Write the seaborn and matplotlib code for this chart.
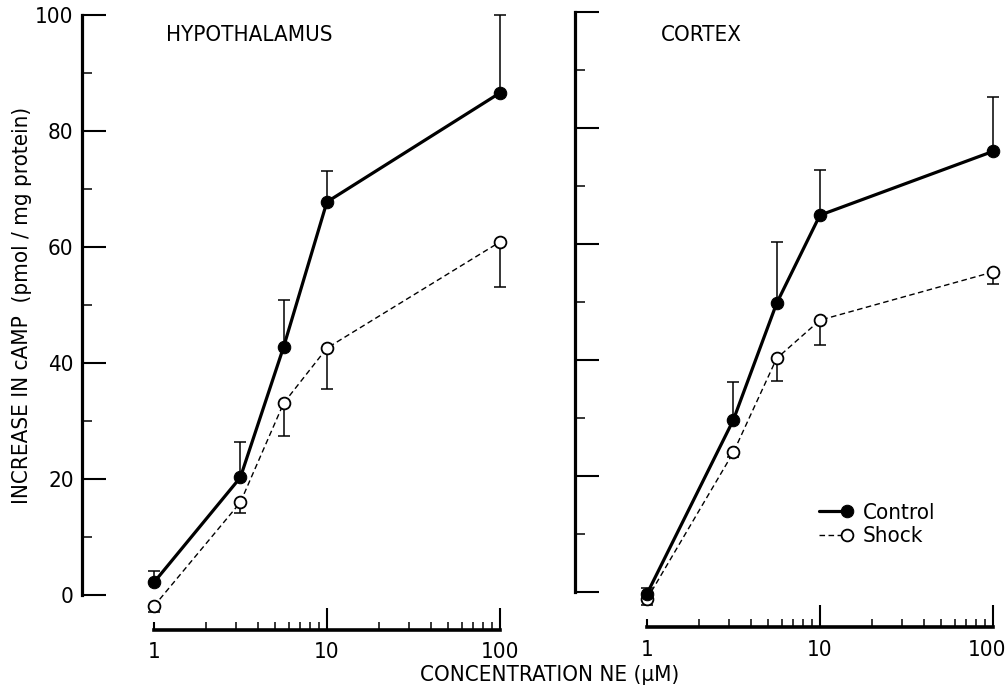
import numpy as np
import pandas as pd
import matplotlib
matplotlib.use("Agg")
import matplotlib.pyplot as plt
import seaborn as sns
from matplotlib.legend_handler import HandlerLine2D
from matplotlib.ticker import FixedLocator, NullFormatter
from matplotlib.transforms import ScaledTranslation

# ---- data ----
conc = [1, 3.16, 5.62, 10, 100]

hypo_control = [2.2, 20.3, 42.8, 67.8, 86.6]
hypo_control_top = [4.1, 26.4, 50.9, 73.1, 100.0]
hypo_shock = [-1.9, 16.0, 33.1, 42.6, 60.9]
hypo_shock_bottom = [-2.9, 14.1, 27.4, 35.5, 53.1]

cortex_control = [-0.3, 29.7, 49.8, 65.0, 76.0]
cortex_control_top = [0.7, 36.2, 60.3, 72.8, 85.3]
cortex_shock = [-1.2, 24.1, 40.3, 46.9, 55.2]
cortex_shock_bottom = [-2.2, 23.3, 36.4, 42.6, 53.1]

panels = ["HYPOTHALAMUS", "CORTEX"]
y_ticks = [0, 20, 40, 60, 80, 100]
x_ticks = [1, 10, 100]
x_tick_labels = ["1", "10", "100"]


class EndMarker(HandlerLine2D):
    # legend line with the marker at the right end only
    def create_artists(self, *args, **kwargs):
        arts = super().create_artists(*args, **kwargs)
        arts[0].set_markevery([1])
        return arts


sns.set_theme(style="white")
plt.rcParams["font.family"] = ["DejaVu Sans"]
plt.rcParams["font.stretch"] = "condensed"
for k in ["text.color", "axes.labelcolor", "xtick.color", "ytick.color"]:
    plt.rcParams[k] = "black"

fig = plt.figure(figsize=(10.07, 6.92), dpi=100)
W, H = 1007, 692
px_dec = 173.0
xlo, xhi = 0.384, 108
ylo, yhi = -6.0, 101
ax_w = np.log10(xhi / xlo) * px_dec
ax_h = (yhi - ylo) * 5.8
axes = [
    fig.add_axes([82 / W, (H - 630) / H, ax_w / W, ax_h / H]),
    fig.add_axes([575 / W, (H - 627) / H, ax_w / W, ax_h / H]),
]

series = [
    (hypo_control, hypo_control_top, hypo_shock, hypo_shock_bottom),
    (cortex_control, cortex_control_top, cortex_shock, cortex_shock_bottom),
]

for i, ax in enumerate(axes):
    ctrl, ctrl_top, shock, shock_bot = series[i]
    df = pd.DataFrame({"conc": conc, "Control": ctrl, "Shock": shock})

    # error bars: control upward, shock downward
    ax.errorbar(conc, ctrl, yerr=[np.zeros(5), np.array(ctrl_top) - np.array(ctrl)],
                fmt="none", ecolor="black", elinewidth=1.1, capsize=4, capthick=1.1,
                zorder=2, clip_on=False)
    ax.errorbar(conc, shock, yerr=[np.array(shock) - np.array(shock_bot), np.zeros(5)],
                fmt="none", ecolor="black", elinewidth=1.1, capsize=4, capthick=1.1,
                zorder=2, clip_on=False)

    sns.lineplot(data=df, x="conc", y="Control", ax=ax, color="black", lw=2.3,
                 marker="o", markersize=9, markerfacecolor="black",
                 markeredgecolor="black", label="Control", zorder=4, clip_on=False)
    sns.lineplot(data=df, x="conc", y="Shock", ax=ax, color="black", lw=1.0,
                 linestyle=(0, (4, 2.5)), marker="o", markersize=8.5,
                 markerfacecolor="white", markeredgecolor="black",
                 markeredgewidth=1.3, label="Shock", zorder=3, clip_on=False)

    ax.set_xscale("log")
    ax.set_xlim(xlo, xhi)
    ax.set_ylim(ylo, yhi)
    ax.set_xlabel("")
    ax.set_ylabel("")
    ax.set_facecolor("none")

    for s in ["top", "right"]:
        ax.spines[s].set_visible(False)
    ax.spines["left"].set_bounds(0, 100)
    ax.spines["bottom"].set_bounds(1, 100)
    ax.spines["left"].set_linewidth(2.3)
    ax.spines["bottom"].set_linewidth(2.6)
    ax.spines["left"].set_color("black")
    ax.spines["bottom"].set_color("black")

    ax.yaxis.set_major_locator(FixedLocator(y_ticks))
    ax.yaxis.set_minor_locator(FixedLocator([10, 30, 50, 70, 90]))
    ax.tick_params(axis="y", which="major", direction="in", length=17, width=1.5,
                   labelsize=16, pad=6, left=True)
    ax.tick_params(axis="y", which="minor", direction="in", length=7, width=1.1, left=True)

    ax.xaxis.set_major_locator(FixedLocator(x_ticks))
    ax.set_xticklabels(x_tick_labels)
    ax.xaxis.set_minor_locator(FixedLocator(
        [k * d for d in (1, 10) for k in range(2, 10)]))
    ax.xaxis.set_minor_formatter(NullFormatter())
    ax.tick_params(axis="x", which="major", direction="in", length=16, width=1.5,
                   labelsize=16, pad=9, bottom=True)
    ax.tick_params(axis="x", which="minor", direction="in", length=6, width=1.1, bottom=True)
    ax.xaxis.get_major_ticks()[0].tick1line.set_markersize(6)

    if i == 1:
        ax.set_yticklabels([])
        # keep the last "100" inside the canvas
        lbl = ax.xaxis.get_major_ticks()[-1].label1
        lbl.set_transform(lbl.get_transform() + ScaledTranslation(-4 / 72, 0, fig.dpi_scale_trans))

    if ax.legend_:
        ax.legend_.remove()

fig.text(166 / W, 1 - 35 / H, panels[0], fontsize=16, ha="left", va="center")
fig.text(661 / W, 1 - 35 / H, panels[1], fontsize=16, ha="left", va="center")

fig.text(22 / W, 1 - 305 / H, "INCREASE IN cAMP  (pmol / mg protein)", fontsize=16,
         rotation=90, ha="center", va="center")
fig.text(550 / W, 1 - 675 / H, "CONCENTRATION NE (\u00b5M)", fontsize=16,
         ha="center", va="center")

handles, labels = axes[1].get_legend_handles_labels()
axes[1].legend(handles, labels, frameon=False, fontsize=16, loc="upper left",
               bbox_to_anchor=(0.512, 0.232), handlelength=1.9, handletextpad=0.4,
               labelspacing=0.15,
               handler_map={h: EndMarker(numpoints=2) for h in handles})

fig.savefig("out.png", dpi=100, facecolor="white")
